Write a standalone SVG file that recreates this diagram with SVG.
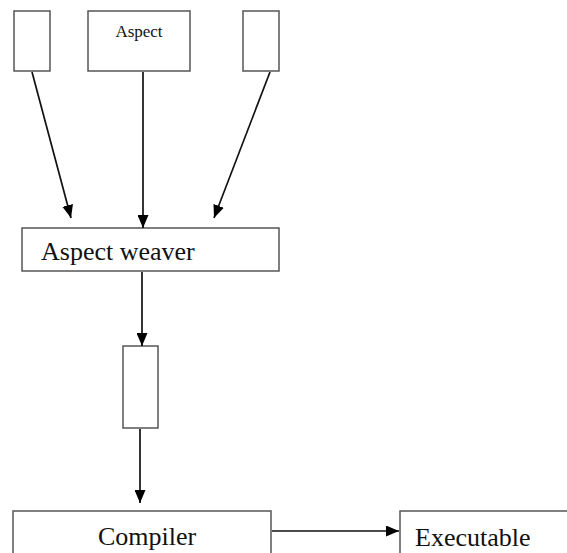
<svg xmlns="http://www.w3.org/2000/svg" width="567" height="553" viewBox="0 0 567 553">
<defs>
<marker id="ah" viewBox="0 0 13 11" refX="13" refY="5.5" markerWidth="13" markerHeight="11" markerUnits="userSpaceOnUse" orient="auto">
<path d="M0,0 L13,5.5 L0,11 Z" fill="#000"/>
</marker>
<style>
.box{fill:#fff;stroke:#555;stroke-width:1.5}
.lbl{font-family:"Liberation Serif","Times New Roman",serif;fill:#111}
.edge{stroke:#111;stroke-width:1.7;fill:none;marker-end:url(#ah)}
</style>
</defs>
<rect width="567" height="553" fill="#fff"/>
<g id="src1"><rect class="box" x="14" y="11" width="36" height="60"/></g>
<g id="aspect"><rect class="box" x="88" y="11" width="102" height="60"/><text class="lbl" x="139" y="37" font-size="17" text-anchor="middle">Aspect</text></g>
<g id="src3"><rect class="box" x="243" y="11" width="36" height="60"/></g>
<g id="weaver"><rect class="box" x="22" y="228" width="257" height="43"/><text class="lbl" x="41" y="260" font-size="26">Aspect weaver</text></g>
<g id="woven"><rect class="box" x="123" y="346" width="35" height="82"/></g>
<g id="compiler"><rect class="box" x="13" y="511" width="258" height="60"/><text class="lbl" x="147" y="545" font-size="26" text-anchor="middle">Compiler</text></g>
<g id="executable"><rect class="box" x="400" y="511" width="190" height="60"/><text class="lbl" x="415" y="546" font-size="26">Executable</text></g>
<g id="connectors">
<line class="edge" x1="32" y1="72" x2="71" y2="218"/>
<line class="edge" x1="143" y1="72" x2="143" y2="228"/>
<line class="edge" x1="270" y1="72" x2="214" y2="218"/>
<line class="edge" x1="142" y1="272" x2="142" y2="346"/>
<line class="edge" x1="140" y1="429" x2="140" y2="503"/>
<line class="edge" x1="272" y1="531" x2="399" y2="531"/>
</g>
</svg>
